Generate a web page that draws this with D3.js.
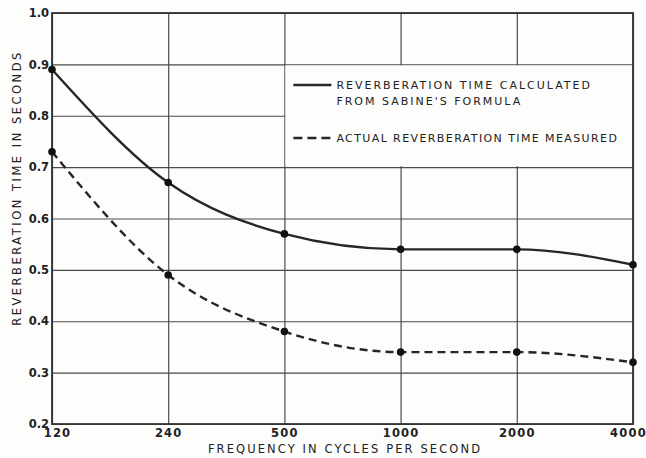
<!DOCTYPE html>
<html>
<head>
<meta charset="utf-8">
<script src="https://cdn.jsdelivr.net/npm/d3@7"></script>
<style>
  html, body { margin: 0; padding: 0; background: #fdfdfc; }
  svg { display: block; }
  text { font-family: "DejaVu Sans", "Liberation Sans", sans-serif; fill: #222; }
</style>
</head>
<body>
<svg id="chart" width="646" height="458"></svg>
<script>
// Frequencies (cycles per second) plotted at equal spacing
const frequencies = ["120", "240", "500", "1000", "2000", "4000"];
// Reverberation time calculated from Sabine's formula (seconds)
const calculated = [0.89, 0.67, 0.57, 0.54, 0.54, 0.51];
// Actual reverberation time measured (seconds)
const measured = [0.73, 0.49, 0.38, 0.34, 0.34, 0.32];
// Y-axis tick values
const yTicks = [0.2, 0.3, 0.4, 0.5, 0.6, 0.7, 0.8, 0.9, 1.0];

const svg = d3.select("#chart");
const margin = { left: 52, right: 13, top: 13, bottom: 34 };
const W = 646, H = 458;

const x = d3.scalePoint()
  .domain(frequencies)
  .range([margin.left, W - margin.right]);
const y = d3.scaleLinear()
  .domain([0.2, 1.0])
  .range([H - margin.bottom, margin.top]);

const gridColor = "#4a4a4a";

// Horizontal grid + y labels
const yAxis = svg.append("g")
  .attr("transform", `translate(${margin.left},0)`)
  .call(d3.axisLeft(y).tickValues(yTicks).tickFormat(d3.format(".1f"))
    .tickSize(-(W - margin.left - margin.right)).tickPadding(3));
yAxis.select(".domain").remove();
yAxis.selectAll(".tick line").attr("stroke", gridColor).attr("stroke-width", 1.2);
yAxis.selectAll(".tick text")
  .attr("font-size", 11.5).attr("font-weight", "bold").attr("fill", "#222");

// Vertical grid + x labels
const xAxis = svg.append("g")
  .attr("transform", `translate(0,${H - margin.bottom})`)
  .call(d3.axisBottom(x).tickSize(-(H - margin.top - margin.bottom)).tickPadding(5));
xAxis.select(".domain").remove();
xAxis.selectAll(".tick line").attr("stroke", gridColor).attr("stroke-width", 1.2);
xAxis.selectAll(".tick text")
  .attr("font-size", 11.5).attr("font-weight", "bold").attr("fill", "#222")
  .attr("letter-spacing", 1.2)
  .attr("dx", (d, i) => i === 0 ? 5 : (i === frequencies.length - 1 ? -5 : 0));

// Legend panel clears the grid between 500 and 4000, 0.9 and 0.7
svg.append("rect")
  .attr("x", x("500") + 1)
  .attr("y", y(0.9) + 1)
  .attr("width", x("4000") - x("500") - 2)
  .attr("height", y(0.7) - y(0.9) - 2)
  .attr("fill", "#fdfdfc");

// Plot frame
svg.append("rect")
  .attr("x", margin.left).attr("y", margin.top)
  .attr("width", W - margin.left - margin.right)
  .attr("height", H - margin.top - margin.bottom)
  .attr("fill", "none").attr("stroke", "#333").attr("stroke-width", 1.8);

const line = d3.line()
  .x((d, i) => x(frequencies[i]))
  .y(d => y(d))
  .curve(d3.curveMonotoneX);

const curveColor = "#262626";

svg.append("path")
  .datum(calculated)
  .attr("d", line)
  .attr("fill", "none").attr("stroke", curveColor).attr("stroke-width", 2.4);

svg.append("path")
  .datum(measured)
  .attr("d", line)
  .attr("fill", "none").attr("stroke", curveColor).attr("stroke-width", 2.4)
  .attr("stroke-dasharray", "8,5");

[calculated, measured].forEach(series => {
  svg.append("g").selectAll("circle")
    .data(series)
    .join("circle")
    .attr("cx", (d, i) => x(frequencies[i]))
    .attr("cy", d => y(d))
    .attr("r", 3.8)
    .attr("fill", "#111");
});

// Legend
const lx0 = x("500") + 9, lx1 = lx0 + 38, tx = lx1 + 5;
const legendFont = 11, legendSpacing = 2;
svg.append("line")
  .attr("x1", lx0).attr("x2", lx1)
  .attr("y1", 85).attr("y2", 85)
  .attr("stroke", curveColor).attr("stroke-width", 2.4);
svg.append("text").attr("x", tx).attr("y", 89)
  .attr("font-size", legendFont).attr("letter-spacing", legendSpacing)
  .text("REVERBERATION TIME CALCULATED");
svg.append("text").attr("x", tx).attr("y", 105)
  .attr("font-size", legendFont).attr("letter-spacing", legendSpacing)
  .text("FROM SABINE'S FORMULA");
svg.append("line")
  .attr("x1", lx0).attr("x2", lx1)
  .attr("y1", 138).attr("y2", 138)
  .attr("stroke", curveColor).attr("stroke-width", 2.4)
  .attr("stroke-dasharray", "9,5");
svg.append("text").attr("x", tx).attr("y", 142)
  .attr("font-size", legendFont).attr("letter-spacing", 1.4)
  .text("ACTUAL REVERBERATION TIME MEASURED");

// Axis titles
svg.append("text")
  .attr("x", 345)
  .attr("y", 453)
  .attr("text-anchor", "middle")
  .attr("font-size", 11.5).attr("letter-spacing", 2.1)
  .text("FREQUENCY IN CYCLES PER SECOND");

svg.append("text")
  .attr("transform", `translate(21,188) rotate(-90)`)
  .attr("text-anchor", "middle")
  .attr("font-size", 11.5).attr("letter-spacing", 2.5)
  .text("REVERBERATION TIME IN SECONDS");
</script>
</body>
</html>
